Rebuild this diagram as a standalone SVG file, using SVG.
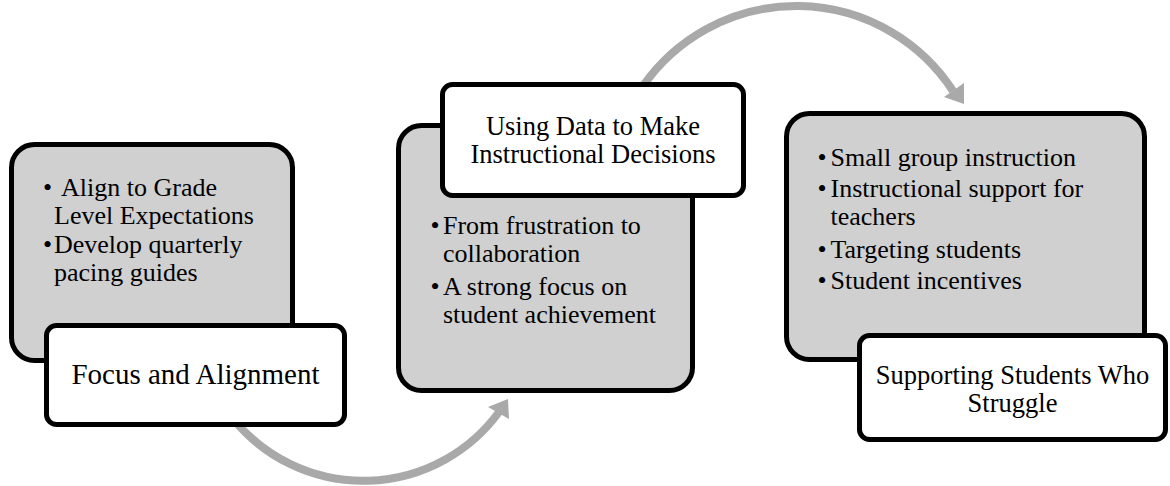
<svg xmlns="http://www.w3.org/2000/svg" width="1170" height="486" viewBox="0 0 1170 486">
  <style>
    .gbox { fill: #d0d0d0; stroke: #000; stroke-width: 5; }
    .wbox { fill: #fff; stroke: #000; stroke-width: 5; }
    .txt { font-family: "Liberation Serif", "Times New Roman", serif; font-size: 26px; fill: #000; }
    .title { font-family: "Liberation Serif", "Times New Roman", serif; font-size: 26.5px; fill: #000; text-anchor: middle; }
    .arc { fill: none; stroke: #a9a9a9; stroke-width: 8; }
    .head { fill: #a9a9a9; }
  </style>
  <rect width="1170" height="486" fill="#fff"/>
  <g id="connectors">
    <path class="arc" d="M 234 420 A 168 168 0 0 0 499 412"/>
    <polygon class="head" points="508,399 488,407 509,419"/>
    <path class="arc" d="M 643 86 A 187 187 0 0 1 953 91"/>
    <polygon class="head" points="964,104 964,83 944,97"/>
  </g>
  <g id="node-focus-details">
    <rect class="gbox" x="11.5" y="144.5" width="281" height="216" rx="23"/>
    <text class="txt" x="43" y="196">•</text>
    <text class="txt" x="61" y="196">Align to Grade</text>
    <text class="txt" x="54" y="223.5">Level Expectations</text>
    <text class="txt" x="43" y="253">•</text>
    <text class="txt" x="54" y="253">Develop quarterly</text>
    <text class="txt" x="54" y="280.5">pacing guides</text>
  </g>
  <g id="node-focus">
    <rect class="wbox" x="46.5" y="325.5" width="298" height="99" rx="10"/>
    <text class="title" x="195.5" y="384" style="font-size:29px">Focus and Alignment</text>
  </g>
  <g id="node-data-details">
    <rect class="gbox" x="398.5" y="125.5" width="294" height="265" rx="23"/>
    <text class="txt" x="430.5" y="234">•</text>
    <text class="txt" x="443" y="234">From frustration to</text>
    <text class="txt" x="443" y="261.5">collaboration</text>
    <text class="txt" x="430.5" y="295">•</text>
    <text class="txt" x="443" y="295">A strong focus on</text>
    <text class="txt" x="443" y="322.5">student achievement</text>
  </g>
  <g id="node-data">
    <rect class="wbox" x="442.5" y="84.5" width="301" height="111" rx="10"/>
    <text class="title" x="593" y="135">Using Data to Make</text>
    <text class="title" x="593" y="162.5">Instructional Decisions</text>
  </g>
  <g id="node-support-details">
    <rect class="gbox" x="786.5" y="113.5" width="358" height="246" rx="23"/>
    <text class="txt" x="817.5" y="166">•</text>
    <text class="txt" x="830.5" y="166">Small group instruction</text>
    <text class="txt" x="817.5" y="197">•</text>
    <text class="txt" x="830.5" y="197">Instructional support for</text>
    <text class="txt" x="830.5" y="225">teachers</text>
    <text class="txt" x="817.5" y="258">•</text>
    <text class="txt" x="830.5" y="258">Targeting students</text>
    <text class="txt" x="817.5" y="289">•</text>
    <text class="txt" x="830.5" y="289">Student incentives</text>
  </g>
  <g id="node-support">
    <rect class="wbox" x="859.5" y="335.5" width="306" height="104" rx="10"/>
    <text class="title" x="1012.5" y="384">Supporting Students Who</text>
    <text class="title" x="1012.5" y="411.5">Struggle</text>
  </g>
</svg>
